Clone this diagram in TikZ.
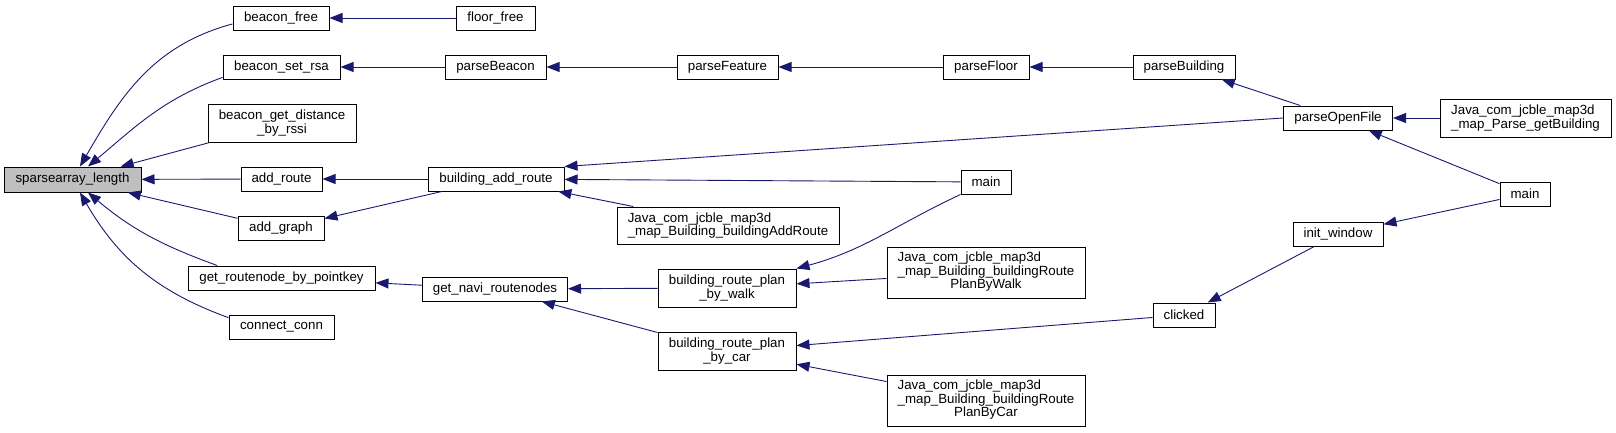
\documentclass[tikz,border=0pt]{standalone}
\usepackage{fontspec}
\setmainfont{Liberation Sans}
\usepackage{xcolor}
\usetikzlibrary{arrows.meta, positioning, calc}
\definecolor{edgeblue}{HTML}{191970}
\definecolor{focusgray}{HTML}{BFBFBF}
\newcommand{\routelabel}[1]{\begin{tabular}{@{}l@{}}Java\_com\_jcble\_map3d\\\_map\_Building\_buildingRoute\\\multicolumn{1}{@{}c@{}}{#1}\end{tabular}}

\begin{document}
\begin{tikzpicture}[x=1pt, y=1pt,
    fn/.style={draw, line width=1pt, rectangle, inner sep=0pt, align=center,
        font=\fontsize{13.3}{13.5}\selectfont, minimum height=24pt},
    focus/.style={fn, fill=focusgray},
    call/.style={draw=edgeblue, line width=0.9pt, -{Triangle[length=13pt, width=10pt]}}]
    \useasboundingbox (0,0) rectangle (1616,-432);
    \node[focus, minimum width=137pt, minimum height=25pt] (sal) at (72.5,-179.5) {sparsearray\_length};
    \node[fn, minimum width=96pt] (bfree) at (281,-18) {beacon\_free};
    \node[fn, minimum width=117pt] (bsrsa) at (281.5,-67) {beacon\_set\_rsa};
    \node[fn, minimum width=148pt, minimum height=38pt] (bgdist) at (282,-123) {beacon\_get\_distance\\\_by\_rssi};
    \node[fn, minimum width=81pt] (aroute) at (281.5,-179) {add\_route};
    \node[fn, minimum width=86pt] (agraph) at (281,-228.5) {add\_graph};
    \node[fn, minimum width=187pt] (grnode) at (281.5,-278) {get\_routenode\_by\_pointkey};
    \node[fn, minimum width=105pt] (cconn) at (281.5,-327) {connect\_conn};
    \node[fn, minimum width=79pt] (ffree) at (495.5,-18) {floor\_free};
    \node[fn, minimum width=101pt] (pbeacon) at (495.5,-67) {parseBeacon};
    \node[fn, minimum width=136pt] (baroute) at (496,-179) {building\_add\_route};
    \node[fn, minimum width=145pt] (gnavi) at (495,-289) {get\_navi\_routenodes};
    \node[fn, minimum width=101pt] (pfeature) at (727.5,-67) {parseFeature};
    \node[fn, minimum width=222pt, minimum height=37pt, align=left] (jaddroute) at (728,-225.5) {Java\_com\_jcble\_map3d\\\_map\_Building\_buildingAddRoute};
    \node[fn, minimum width=138pt, minimum height=38pt] (rpwalk) at (727,-288) {building\_route\_plan\\\_by\_walk};
    \node[fn, minimum width=138pt, minimum height=38pt] (rpcar) at (727,-351) {building\_route\_plan\\\_by\_car};
    \node[fn, minimum width=86pt] (pfloor) at (986,-67) {parseFloor};
    \node[fn, minimum width=50pt] (maina) at (986,-182) {main};
    \node[fn, minimum width=198pt, minimum height=51pt] (jwalk) at (986,-272.5) {\routelabel{PlanByWalk}};
    \node[fn, minimum width=198pt, minimum height=51pt] (jcar) at (986,-400.5) {\routelabel{PlanByCar}};
    \node[fn, minimum width=102pt] (pbuilding) at (1184,-67) {parseBuilding};
    \node[fn, minimum width=62pt] (clicked) at (1184,-315) {clicked};
    \node[fn, minimum width=109pt] (popen) at (1338,-118) {parseOpenFile};
    \node[fn, minimum width=90pt] (iwindow) at (1338,-234) {init\_window};
    \node[fn, minimum width=171pt, minimum height=38pt, align=left] (jgetbuilding) at (1525.5,-118) {Java\_com\_jcble\_map3d\\\_map\_Parse\_getBuilding};
    \node[fn, minimum width=50pt] (mainb) at (1525,-194) {main};
    % callers of sparsearray_length
    \draw[call] (bfree.187) to[out=195, in=60] (sal);
    \draw[call] (bsrsa.190) to[out=200, in=40] (sal);
    \draw[call] (bgdist) -- (sal);
    \draw[call] (aroute) -- (sal);
    \draw[call] (agraph) -- (sal);
    \draw[call] (grnode.169) to[out=160, in=-40] (sal);
    \draw[call] (cconn.170) to[out=160, in=-60] (sal);
    % further up the chain
    \draw[call] (ffree) -- (bfree);
    \draw[call] (pbeacon) -- (bsrsa);
    \draw[call] (pfeature) -- (pbeacon);
    \draw[call] (pfloor) -- (pfeature);
    \draw[call] (pbuilding) -- (pfloor);
    \draw[call] (popen) -- (pbuilding);
    \draw[call] (popen.west) -- (baroute.north east);
    \draw[call] (jgetbuilding) -- (popen);
    \draw[call] (mainb) -- (popen);
    \draw[call] (mainb) -- (iwindow);
    \draw[call] (iwindow) -- (clicked);
    \draw[call] (baroute) -- (aroute);
    \draw[call] (baroute) -- (agraph);
    \draw[call] (maina) -- (baroute);
    \draw[call] (jaddroute) -- (baroute);
    \draw[call] (gnavi) -- (grnode);
    \draw[call] (rpwalk) -- (gnavi);
    \draw[call] (rpcar) -- (gnavi);
    \draw[call] (maina.south west) to[out=205, in=15] (rpwalk.north east);
    \draw[call] (jwalk) -- (rpwalk);
    \draw[call] (clicked) -- (rpcar);
    \draw[call] (jcar) -- (rpcar);
\end{tikzpicture}
\end{document}
